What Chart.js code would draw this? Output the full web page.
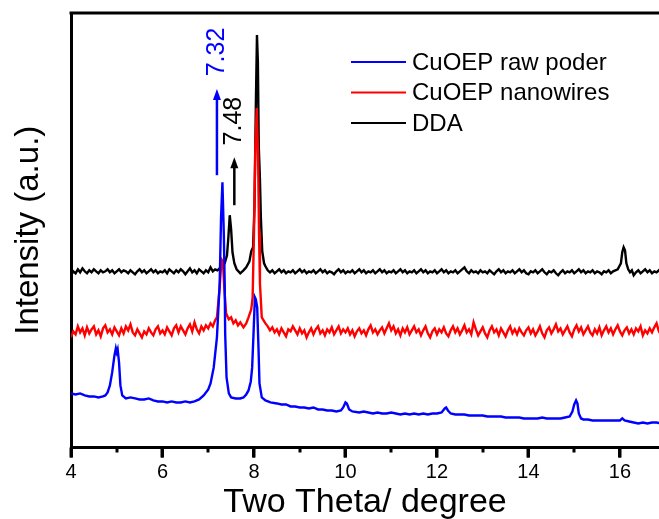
<!DOCTYPE html>
<html>
<head>
<meta charset="utf-8">
<script src="https://cdn.jsdelivr.net/npm/chart.js@4.4.0/dist/chart.umd.min.js"></script>
<style>
  html, body { margin: 0; padding: 0; background: #fff; }
  canvas { display: block; }
</style>
</head>
<body>
<canvas id="xrdChart" width="659" height="519"></canvas>
<script>
const seriesNames = ["CuOEP raw poder", "CuOEP nanowires", "DDA"];

// [two theta, intensity (a.u.)]
const rawPowder = [
  [4.0, 54], [4.1, 53], [4.2, 54], [4.3, 52], [4.4, 51], [4.5, 51], [4.6, 50], [4.7, 51], [4.75, 52],
  [4.8, 55], [4.85, 62], [4.9, 75], [4.95, 92], [4.98, 99], [5.0, 95], [5.02, 98], [5.05, 85], [5.08, 62],
  [5.12, 52], [5.2, 49], [5.3, 50], [5.4, 49], [5.5, 48], [5.6, 48], [5.7, 49], [5.8, 47], [5.9, 46],
  [6.0, 46], [6.1, 45], [6.2, 46], [6.3, 45], [6.4, 45], [6.5, 46], [6.6, 45], [6.7, 46], [6.8, 48],
  [6.9, 52], [7.0, 58], [7.05, 64], [7.12, 80], [7.19, 110], [7.25, 164], [7.28, 230], [7.31, 265],
  [7.34, 214], [7.36, 164], [7.37, 114], [7.4, 70], [7.45, 54], [7.5, 50], [7.6, 49], [7.7, 49],
  [7.77, 50], [7.83, 53], [7.88, 57], [7.93, 66], [7.96, 80], [7.99, 114], [8.02, 150], [8.04, 148],
  [8.07, 140], [8.1, 97], [8.12, 64], [8.17, 50], [8.25, 47], [8.36, 45], [8.5, 44], [8.6, 43],
  [8.7, 43], [8.8, 41], [8.9, 41], [9.0, 40], [9.1, 40], [9.2, 39], [9.3, 40], [9.4, 38], [9.5, 38],
  [9.6, 37], [9.7, 37], [9.8, 36], [9.9, 37], [9.95, 40], [10.0, 45], [10.03, 44], [10.08, 38],
  [10.15, 36], [10.3, 35], [10.4, 36], [10.5, 35], [10.6, 34], [10.7, 35], [10.8, 34], [10.9, 34],
  [11.0, 35], [11.1, 34], [11.2, 33], [11.3, 34], [11.4, 33], [11.5, 34], [11.6, 33], [11.7, 34],
  [11.8, 33], [11.9, 34], [12.0, 34], [12.1, 35], [12.17, 39], [12.2, 40], [12.24, 37], [12.3, 34],
  [12.4, 33], [12.5, 33], [12.6, 33], [12.7, 32], [12.8, 32], [12.9, 32], [13.0, 32], [13.1, 31],
  [13.2, 31], [13.3, 31], [13.4, 31], [13.5, 30], [13.6, 30], [13.7, 30], [13.8, 30], [13.9, 29],
  [14.0, 29], [14.1, 29], [14.2, 29], [14.3, 30], [14.4, 29], [14.5, 29], [14.6, 29], [14.7, 29],
  [14.8, 30], [14.9, 31], [14.96, 36], [15.0, 43], [15.04, 47], [15.07, 44], [15.1, 34], [15.15, 29],
  [15.2, 28], [15.3, 28], [15.4, 27], [15.5, 27], [15.6, 27], [15.7, 27], [15.8, 27], [15.9, 27],
  [16.0, 27], [16.05, 29], [16.1, 27], [16.2, 26], [16.3, 25], [16.4, 24], [16.5, 25], [16.6, 24],
  [16.7, 25], [16.8, 25], [16.9, 24]
];

const nanowires = [
  [4.0, 110], [4.05, 116], [4.1, 113], [4.15, 121], [4.2, 115], [4.25, 119], [4.3, 112], [4.35, 120],
  [4.4, 114], [4.45, 118], [4.5, 121], [4.55, 113], [4.6, 117], [4.65, 111], [4.7, 119], [4.75, 122],
  [4.8, 115], [4.85, 118], [4.9, 113], [4.95, 120], [5.0, 116], [5.05, 112], [5.1, 119], [5.15, 114],
  [5.2, 121], [5.25, 117], [5.3, 123], [5.35, 115], [5.4, 112], [5.45, 118], [5.5, 114], [5.55, 110],
  [5.6, 116], [5.65, 113], [5.7, 119], [5.75, 115], [5.8, 112], [5.85, 118], [5.9, 121], [5.95, 114],
  [6.0, 117], [6.05, 113], [6.1, 120], [6.15, 116], [6.2, 112], [6.25, 119], [6.3, 122], [6.35, 115],
  [6.4, 121], [6.45, 117], [6.5, 113], [6.55, 119], [6.6, 123], [6.65, 116], [6.7, 125], [6.75, 118],
  [6.8, 114], [6.85, 121], [6.9, 117], [6.95, 122], [7.0, 119], [7.05, 124], [7.1, 121], [7.15, 127],
  [7.19, 130], [7.25, 160], [7.29, 188], [7.32, 186], [7.35, 160], [7.39, 134], [7.45, 128],
  [7.5, 130], [7.55, 124], [7.6, 127], [7.65, 122], [7.7, 125], [7.77, 120], [7.83, 124], [7.88, 130],
  [7.94, 138], [7.97, 150], [8.0, 215], [8.03, 300], [8.06, 339], [8.09, 290], [8.11, 214],
  [8.13, 164], [8.17, 130], [8.21, 127], [8.25, 124], [8.3, 121], [8.35, 117], [8.4, 120], [8.45, 115],
  [8.5, 118], [8.55, 113], [8.6, 119], [8.65, 115], [8.7, 111], [8.75, 118], [8.8, 116], [8.85, 121],
  [8.9, 117], [8.95, 113], [9.0, 119], [9.05, 114], [9.1, 117], [9.15, 110], [9.2, 115], [9.25, 119],
  [9.3, 113], [9.35, 118], [9.4, 121], [9.45, 114], [9.5, 117], [9.55, 112], [9.6, 118], [9.65, 115],
  [9.7, 120], [9.75, 113], [9.8, 117], [9.85, 121], [9.9, 114], [9.95, 118], [10.0, 115], [10.05, 119],
  [10.1, 113], [10.15, 117], [10.2, 111], [10.25, 116], [10.3, 119], [10.35, 114], [10.4, 117],
  [10.45, 112], [10.5, 118], [10.55, 122], [10.6, 115], [10.65, 118], [10.7, 113], [10.75, 117],
  [10.8, 120], [10.85, 114], [10.9, 119], [10.95, 124], [11.0, 117], [11.05, 121], [11.1, 114],
  [11.15, 118], [11.2, 112], [11.25, 119], [11.3, 115], [11.35, 120], [11.4, 113], [11.45, 117],
  [11.5, 121], [11.55, 115], [11.6, 118], [11.65, 112], [11.7, 117], [11.75, 121], [11.8, 114],
  [11.85, 110], [11.9, 116], [11.95, 119], [12.0, 113], [12.05, 118], [12.1, 115], [12.15, 120],
  [12.2, 114], [12.25, 111], [12.3, 117], [12.35, 121], [12.4, 115], [12.45, 119], [12.5, 113],
  [12.55, 117], [12.6, 122], [12.65, 115], [12.7, 118], [12.75, 113], [12.8, 125], [12.85, 118],
  [12.9, 112], [12.95, 116], [13.0, 120], [13.05, 114], [13.1, 110], [13.15, 117], [13.2, 121],
  [13.25, 115], [13.3, 118], [13.35, 112], [13.4, 119], [13.45, 115], [13.5, 111], [13.55, 117],
  [13.6, 121], [13.65, 114], [13.7, 118], [13.75, 113], [13.8, 119], [13.85, 115], [13.9, 112],
  [13.95, 117], [14.0, 120], [14.05, 114], [14.1, 118], [14.15, 112], [14.2, 116], [14.25, 121],
  [14.3, 114], [14.35, 110], [14.4, 117], [14.45, 120], [14.5, 114], [14.55, 118], [14.6, 123],
  [14.65, 116], [14.7, 119], [14.75, 113], [14.8, 117], [14.85, 121], [14.9, 115], [14.95, 111],
  [15.0, 118], [15.05, 122], [15.1, 116], [15.15, 120], [15.2, 113], [15.25, 117], [15.3, 121],
  [15.35, 115], [15.4, 112], [15.45, 118], [15.5, 114], [15.55, 120], [15.6, 112], [15.65, 117],
  [15.7, 121], [15.75, 115], [15.8, 119], [15.85, 113], [15.9, 118], [15.95, 122], [16.0, 116],
  [16.05, 112], [16.1, 117], [16.15, 120], [16.2, 114], [16.25, 118], [16.3, 113], [16.35, 119],
  [16.4, 116], [16.45, 121], [16.5, 112], [16.55, 117], [16.6, 114], [16.65, 119], [16.7, 115],
  [16.75, 120], [16.8, 124], [16.85, 116], [16.9, 112]
];

const dda = [
  [4.0, 172], [4.05, 176], [4.1, 174], [4.15, 178], [4.2, 175], [4.25, 179], [4.3, 176], [4.35, 174],
  [4.4, 177], [4.45, 175], [4.5, 178], [4.55, 176], [4.6, 174], [4.65, 177], [4.7, 175], [4.75, 176],
  [4.8, 178], [4.85, 175], [4.9, 177], [4.95, 174], [5.0, 176], [5.05, 178], [5.1, 175], [5.15, 177],
  [5.2, 176], [5.25, 174], [5.3, 177], [5.35, 175], [5.4, 173], [5.45, 176], [5.5, 178], [5.55, 175],
  [5.6, 177], [5.65, 174], [5.7, 176], [5.75, 178], [5.8, 175], [5.85, 177], [5.9, 174], [5.95, 176],
  [6.0, 175], [6.05, 177], [6.1, 174], [6.15, 178], [6.2, 176], [6.25, 174], [6.3, 177], [6.35, 175],
  [6.4, 178], [6.45, 176], [6.5, 173], [6.55, 176], [6.6, 179], [6.65, 175], [6.7, 177], [6.75, 174],
  [6.8, 178], [6.85, 176], [6.9, 174], [6.95, 177], [7.0, 175], [7.05, 180], [7.1, 176], [7.15, 178],
  [7.2, 177], [7.25, 179], [7.3, 180], [7.36, 184], [7.41, 192], [7.44, 210], [7.47, 232], [7.5, 218],
  [7.53, 195], [7.57, 184], [7.62, 178], [7.7, 174], [7.77, 177], [7.83, 180], [7.9, 186],
  [7.94, 196], [7.98, 200], [8.01, 240], [8.04, 340], [8.065, 412], [8.085, 385], [8.105, 300],
  [8.13, 268], [8.15, 230], [8.18, 196], [8.22, 184], [8.25, 181], [8.3, 177], [8.35, 175], [8.4, 177],
  [8.45, 174], [8.5, 176], [8.55, 178], [8.6, 175], [8.65, 177], [8.7, 174], [8.75, 176], [8.8, 175],
  [8.85, 177], [8.9, 174], [8.95, 176], [9.0, 178], [9.05, 175], [9.1, 177], [9.15, 174], [9.2, 176],
  [9.25, 175], [9.3, 177], [9.35, 174], [9.4, 176], [9.45, 178], [9.5, 175], [9.55, 177], [9.6, 174],
  [9.65, 176], [9.7, 175], [9.75, 173], [9.8, 176], [9.85, 178], [9.9, 175], [9.95, 177], [10.0, 174],
  [10.05, 176], [10.1, 175], [10.15, 177], [10.2, 174], [10.25, 176], [10.3, 178], [10.35, 175],
  [10.4, 177], [10.45, 174], [10.5, 176], [10.55, 175], [10.6, 177], [10.65, 174], [10.7, 176],
  [10.75, 178], [10.8, 175], [10.85, 177], [10.9, 174], [10.95, 176], [11.0, 175], [11.05, 177],
  [11.1, 174], [11.15, 176], [11.2, 178], [11.25, 175], [11.3, 177], [11.35, 174], [11.4, 176],
  [11.45, 175], [11.5, 177], [11.55, 174], [11.6, 176], [11.65, 178], [11.7, 175], [11.75, 177],
  [11.8, 174], [11.85, 176], [11.9, 175], [11.95, 177], [12.0, 174], [12.05, 176], [12.1, 178],
  [12.15, 175], [12.2, 177], [12.25, 174], [12.3, 176], [12.35, 175], [12.4, 177], [12.45, 174],
  [12.5, 176], [12.55, 178], [12.6, 180], [12.65, 176], [12.7, 174], [12.75, 177], [12.8, 175],
  [12.85, 176], [12.9, 174], [12.95, 177], [13.0, 175], [13.05, 176], [13.1, 174], [13.15, 177],
  [13.2, 175], [13.25, 173], [13.3, 176], [13.35, 178], [13.4, 175], [13.45, 177], [13.5, 174],
  [13.55, 176], [13.6, 175], [13.65, 177], [13.7, 174], [13.75, 176], [13.8, 178], [13.85, 175],
  [13.9, 177], [13.95, 174], [14.0, 173], [14.05, 176], [14.1, 175], [14.15, 177], [14.2, 174],
  [14.25, 176], [14.3, 178], [14.35, 175], [14.4, 173], [14.45, 176], [14.5, 175], [14.55, 177],
  [14.6, 174], [14.65, 172], [14.7, 175], [14.75, 177], [14.8, 174], [14.85, 176], [14.9, 175],
  [14.95, 177], [15.0, 174], [15.05, 176], [15.1, 178], [15.15, 175], [15.2, 177], [15.25, 174],
  [15.3, 176], [15.35, 175], [15.4, 177], [15.45, 174], [15.5, 176], [15.55, 175], [15.6, 173],
  [15.65, 176], [15.7, 175], [15.75, 177], [15.8, 174], [15.85, 176], [15.9, 177], [15.95, 178],
  [16.02, 184], [16.05, 195], [16.08, 200], [16.11, 197], [16.14, 184], [16.18, 178], [16.22, 175],
  [16.26, 177], [16.3, 172], [16.35, 175], [16.4, 177], [16.45, 174], [16.5, 176], [16.55, 178],
  [16.6, 175], [16.65, 177], [16.7, 174], [16.75, 176], [16.8, 175], [16.85, 177], [16.9, 174]
];

// peak marks: label, arrow angle, arrow from / to, label centre (a.u.)
const peakText = ["7.32", "7.48"];
const peakTheta = [7.19, 7.57];
const arrowFrom = [272, 242];
const arrowTo = [358, 290];
const labelCenter = [395, 326];

const lineColors = ["#0000ff", "#ff0000", "#000000"];
const fontFamily = "'Liberation Sans', Arial, sans-serif";

const toPoints = (arr) => arr.map((p) => ({ x: p[0], y: p[1] }));

const decorations = {
  id: "decorations",
  afterDraw(chart) {
    const { ctx, chartArea } = chart;
    const x = chart.scales.x;
    const y = chart.scales.y;
    ctx.save();

    // top frame
    ctx.strokeStyle = "#000";
    ctx.lineWidth = 3;
    ctx.beginPath();
    ctx.moveTo(chartArea.left - 1.5, chartArea.top);
    ctx.lineTo(chartArea.right, chartArea.top);
    ctx.stroke();

    // major (even) and minor (odd) ticks under the x axis
    ctx.fillStyle = "#000";
    for (let t = 4; t < x.max; t += 1) {
      const px = Math.round(x.getPixelForValue(t));
      ctx.fillRect(px - 1.5, chartArea.bottom, 3, t % 2 === 0 ? 10 : 5);
    }

    // peak arrows + labels
    for (let i = 0; i < peakText.length; i++) {
      const col = lineColors[i === 0 ? 0 : 2];
      const px = x.getPixelForValue(peakTheta[i]);
      const y0 = y.getPixelForValue(arrowFrom[i]);
      const y1 = y.getPixelForValue(arrowTo[i]);
      ctx.strokeStyle = col;
      ctx.fillStyle = col;
      ctx.lineWidth = 2.5;
      ctx.beginPath();
      ctx.moveTo(px, y0);
      ctx.lineTo(px, y1 + 8);
      ctx.stroke();
      ctx.beginPath();
      ctx.moveTo(px, y1);
      ctx.lineTo(px - 4, y1 + 11);
      ctx.lineTo(px + 4, y1 + 11);
      ctx.closePath();
      ctx.fill();

      ctx.save();
      ctx.translate(px, y.getPixelForValue(labelCenter[i]));
      ctx.rotate(-Math.PI / 2);
      ctx.font = "25px " + fontFamily;
      ctx.textAlign = "center";
      ctx.textBaseline = "middle";
      ctx.fillText(peakText[i], 0, 0);
      ctx.restore();
    }

    // legend
    ctx.font = "24px " + fontFamily;
    ctx.textAlign = "left";
    ctx.textBaseline = "middle";
    chart.data.datasets.forEach((ds, i) => {
      const ly = 62 + i * 30.5;
      ctx.strokeStyle = ds.borderColor;
      ctx.lineWidth = 2;
      ctx.beginPath();
      ctx.moveTo(351, ly);
      ctx.lineTo(406, ly);
      ctx.stroke();
      ctx.fillStyle = "#000";
      ctx.fillText(ds.label, 412, ly + 1);
    });

    ctx.restore();
  }
};

new Chart(document.getElementById("xrdChart"), {
  type: "line",
  data: {
    datasets: [rawPowder, nanowires, dda].map((arr, i) => ({
      label: seriesNames[i],
      data: toPoints(arr),
      borderColor: lineColors[i],
      borderWidth: 2.4,
      pointRadius: 0,
      tension: 0,
      fill: false,
    })),
  },
  options: {
    responsive: false,
    animation: false,
    devicePixelRatio: 1,
    layout: { padding: { top: 13, right: 0, left: 0, bottom: 0 } },
    plugins: {
      legend: { display: false },
      tooltip: { enabled: false },
    },
    scales: {
      x: {
        type: "linear",
        min: 4,
        max: 16.853,
        afterFit: (s) => { s.height = 71.5; },
        grid: { drawOnChartArea: false, tickLength: 10, tickWidth: 3, tickColor: "#000" },
        border: { color: "#000", width: 3 },
        ticks: {
          stepSize: 2,
          includeBounds: false,
          autoSkip: false,
          maxRotation: 0,
          padding: 3,
          color: "#000",
          font: { family: fontFamily, size: 20 },
        },
        title: {
          display: true,
          text: "Two Theta/ degree",
          color: "#000",
          font: { family: fontFamily, size: 34, lineHeight: 0.94 },
          padding: 0,
        },
      },
      y: {
        min: 0,
        max: 434,
        afterFit: (s) => { s.width = 71; },
        grid: { display: false },
        border: { color: "#000", width: 3 },
        ticks: { display: false },
        title: {
          display: true,
          text: "Intensity (a.u.)",
          color: "#000",
          font: { family: fontFamily, size: 33 },
          padding: { top: 9, bottom: 0 },
        },
      },
    },
  },
  plugins: [decorations],
});
</script>
</body>
</html>
